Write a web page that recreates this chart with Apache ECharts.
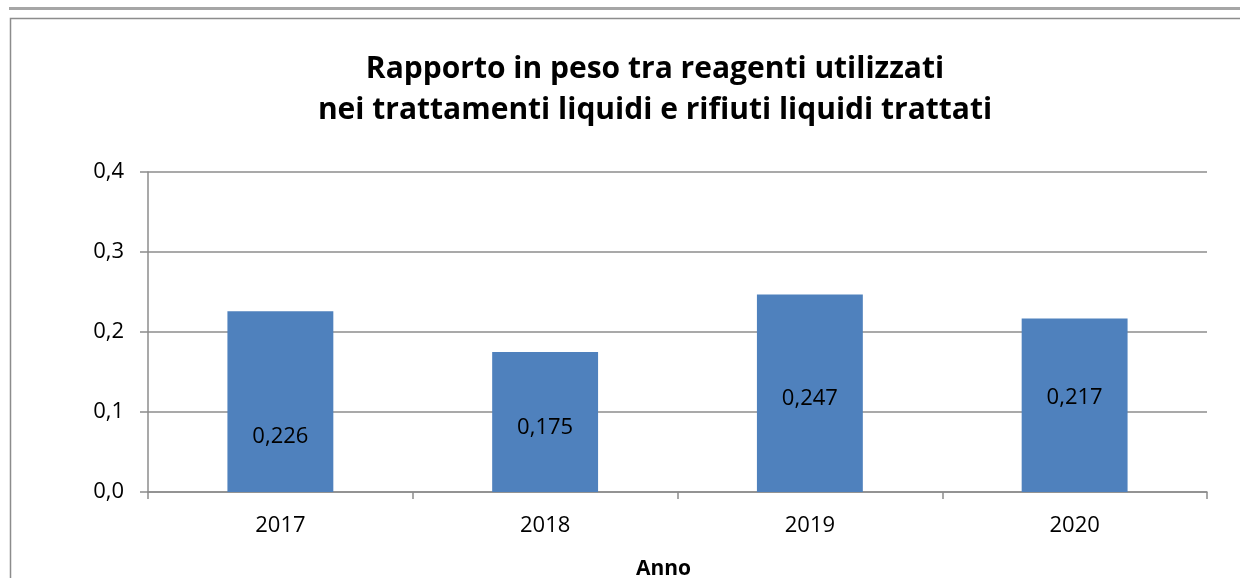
<!DOCTYPE html>
<html>
<head>
<meta charset="utf-8">
<script src="https://cdn.jsdelivr.net/npm/echarts@6/dist/echarts.min.js"></script>
<style>
  html, body { margin: 0; padding: 0; background: #fff; }
  #echart1 { width: 1240px; height: 578px; }
</style>
</head>
<body>
<div id="echart1"></div>
<script>
// dati
const anni = ['2017', '2018', '2019', '2020'];
const rapporto = [0.226, 0.175, 0.247, 0.217];
const yTicks = [0, 0.1, 0.2, 0.3, 0.4];
// spostamento verticale delle etichette (come nell'originale)
const labelShift = [35, 6, 6, -7];

const FONT = '"Open Sans", sans-serif';
const GRAY = '#8c8c8c';

let myChart = echarts.init(document.getElementById('echart1'));
myChart.setOption({
  animation: false,
  textStyle: { fontFamily: FONT },
  title: {
    text: 'Rapporto in peso tra reagenti utilizzati\nnei trattamenti liquidi e rifiuti liquidi trattati',
    left: 650,
    textAlign: 'center',
    top: 44,
    textStyle: { fontFamily: FONT, fontSize: 30, fontWeight: 'bold', color: '#000', lineHeight: 41 }
  },
  graphic: [
    { type: 'rect', shape: { x: 9, y: 7, width: 1240, height: 3 }, style: { fill: '#a6a6a6' } },
    { type: 'rect', shape: { x: 10.5, y: 18.5, width: 1300, height: 700 }, style: { fill: 'none', stroke: GRAY, lineWidth: 1.5 } }
  ],
  grid: { left: 148, right: 33, top: 172, bottom: 86, containLabel: false, outerBoundsMode: 'none' },
  xAxis: {
    type: 'category',
    data: anni,
    name: 'Anno',
    nameLocation: 'middle',
    nameGap: 67,
    nameTextStyle: { fontFamily: FONT, fontSize: 21, fontWeight: 'bold', color: '#000', padding: [0, 28, 0, 0] },
    axisLine: { lineStyle: { color: GRAY, width: 1.5 } },
    axisTick: { show: true, length: 7, lineStyle: { color: GRAY, width: 1.5 } },
    axisLabel: { fontSize: 22, color: '#000', margin: 23, fontFamily: FONT }
  },
  yAxis: {
    type: 'value',
    min: yTicks[0],
    max: yTicks[yTicks.length - 1],
    interval: 0.1,
    axisLine: { show: true, lineStyle: { color: GRAY, width: 1.5 } },
    axisTick: { show: true, length: 8, lineStyle: { color: GRAY, width: 1.5 } },
    splitLine: { lineStyle: { color: GRAY, width: 1.5 } },
    axisLabel: {
      fontSize: 22, color: '#000', margin: 24, fontFamily: FONT,
      formatter: v => v.toFixed(1).replace('.', ',')
    }
  },
  series: [{
    type: 'bar',
    barWidth: '40%',
    itemStyle: { color: '#4f81bd' },
    data: rapporto.map((v, i) => ({
      value: v,
      label: { offset: [0, labelShift[i]] }
    })),
    label: {
      show: true,
      position: 'inside',
      color: '#000',
      fontSize: 22,
      fontFamily: FONT,
      formatter: p => p.value.toFixed(3).replace('.', ',')
    }
  }]
});
</script>
</body>
</html>
